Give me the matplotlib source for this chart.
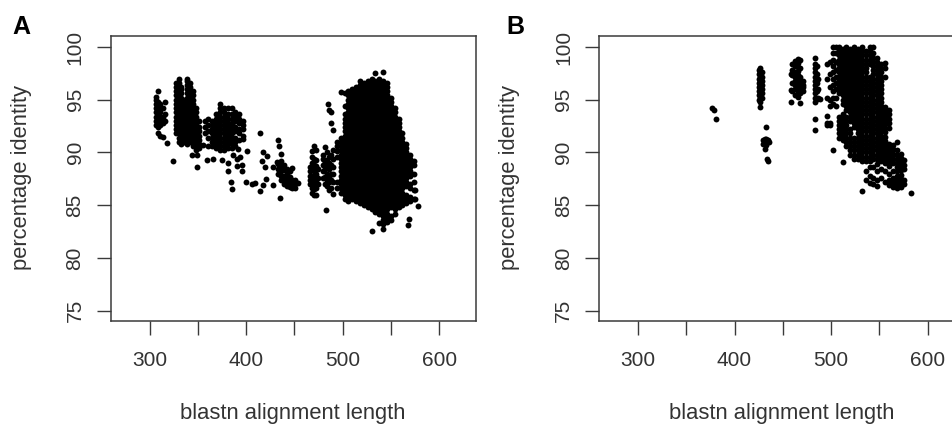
import matplotlib
matplotlib.use("Agg")
import matplotlib.pyplot as plt

plt.rcParams['font.family'] = ['Liberation Sans', 'DejaVu Sans']

x_ticks = [300, 350, 400, 450, 500, 550, 600]
x_labels = ['300', '', '400', '', '500', '', '600']
y_ticks = [75, 80, 85, 90, 95, 100]
y_labels = ['75', '80', '85', '90', '95', '100']
x_title = 'blastn alignment length'
y_title = 'percentage identity'

# Panel A, one list of identities per alignment length
A_left_len = [307, 309, 311, 314, 316, 318]
A_left_pct = [
    [92.6, 93, 93.4, 93.8, 94.2, 94.6, 95, 95.3],
    [92.4, 92.8, 93.2, 93.6, 94, 94.4, 94.8, 95.8, 91.8],
    [92.6, 93, 93.4, 93.8, 94.2, 94.6, 91.6],
    [92.8, 93.4, 94.2, 91.5],
    [93, 93.6, 94.8],
    [90.9],
]
A_mid_len = [327, 330, 333, 336, 339, 342, 345, 348, 351]
A_mid_pct = [
    [91.8, 92.2, 92.6, 93, 93.4, 93.8, 94.2, 94.6, 95, 95.4, 95.8, 96.2, 96.6],
    [91, 91.4, 91.8, 92.2, 92.6, 93, 93.4, 93.8, 94.2, 94.6, 95, 95.4, 95.8, 96.2, 96.6, 97],
    [90.8, 91.2, 91.6, 92, 92.4, 92.8, 93.2, 93.6, 94, 94.4, 94.8, 95.2, 95.6, 96, 96.2],
    [91, 91.4, 91.8, 92.2, 92.6, 93, 93.4, 93.8, 94.2, 94.6, 95],
    [90.8, 91.2, 91.6, 92, 92.4, 92.8, 93.2, 93.6, 94, 94.4, 94.8, 95.2, 95.6, 96, 96.4, 96.8, 97],
    [91, 91.4, 91.8, 92.2, 92.6, 93, 93.4, 93.8, 94.2, 94.6, 95, 95.4, 95.8, 96.2, 96.6],
    [90.6, 91, 91.4, 91.8, 92.2, 92.6, 93, 93.4, 93.8, 94.2, 94.6, 95, 95.4, 95.8],
    [90.2, 90.6, 91, 91.4, 91.8, 92.2, 92.6, 93, 93.4, 93.8, 94.2],
    [90.4, 90.8, 91.2, 91.6, 92, 92.4, 93],
]
A_third_len = [357, 361, 365, 369, 373, 377, 381, 385, 389, 393, 397]
A_third_pct = [
    [93, 92.4, 91.8],
    [93.2, 92.6, 92, 91.4, 90.6],
    [93, 92.6, 92.2, 91.8, 91.4, 91, 90.6],
    [93.6, 93.2, 92.8, 92.4, 92, 91.6, 91.2, 90.8, 90.4],
    [94.6, 94.2, 93.8, 93.4, 93, 92.6, 92.2, 91.8, 91.4, 91, 90.6, 90.2],
    [94.2, 93.8, 93.4, 93, 92.6, 92.2, 91.8, 91.4, 91, 90.6, 90.2],
    [94.2, 93.6, 93.2, 92.8, 92.4, 92, 91.6, 91.2, 90.8, 90.4],
    [94.2, 93.6, 93.2, 92.7, 92.2, 91.8, 91.4, 90.9, 90.4],
    [93.8, 93.4, 93, 92.4, 92, 91.4, 91, 90.6],
    [93.6, 93.2, 92.8, 92.2, 91.8, 91.2],
    [93, 92.6, 92.2, 91.6, 91.3],
]
A_sparse_len = [324.7, 348.9, 343.7, 348.9, 355.8, 359.2, 366.1, 374.8, 381.7, 381.7, 384.1, 385.1,
                386.9, 392, 400.7, 390.3, 393.8, 390.3, 395.5, 395.5, 399.6, 405.9, 409.3, 414.5,
                417.3, 416.2, 421.4, 419.7, 428.3, 420.7, 417.3, 414.5, 428.3, 433.5, 434.5, 435.9,
                431.8, 435.2, 482.7, 490.3, 485, 486, 488, 488, 490, 530, 569, 568, 578.4, 575, 575]
A_sparse_pct = [89.2, 88.6, 89.8, 89.8, 90.7, 89.3, 89.4, 89.3, 89, 88.2, 87.2, 86.5,
                89.8, 90.3, 90.1, 89.4, 89.6, 88.7, 88.8, 88.2, 87.2, 87, 87.1, 91.8,
                90, 89.2, 89.7, 88.6, 88.6, 87.5, 86.9, 86.3, 86.9, 91.2, 90.6, 89.9,
                89.1, 85.7, 84.5, 86.1, 94.6, 94, 93.8, 92.8, 92.1, 82.6, 83.7, 83.1, 84.9, 85.6, 86.4]
A_fourth_len = [433, 436, 439, 442, 445, 448, 451, 454]
A_fourth_pct = [
    [88.9, 88.4, 88],
    [89.2, 88.7, 88.2, 87.8, 87.4],
    [88.8, 88.3, 87.8, 87.4, 87],
    [88.4, 88, 87.6, 87.2, 86.8],
    [88.2, 87.7, 87.3, 87, 86.7],
    [88.5, 87.4, 87, 86.6],
    [87.4, 87, 86.6],
    [87.1],
]
A_fifth_len = [466, 468, 470, 472, 474, 480, 482, 484, 486, 488, 490, 494]
A_fifth_pct = [
    [87, 87.4, 87.8, 88.2, 88.6],
    [86.2, 86.6, 87.2, 87.8, 88.4, 89, 89.6, 90.1],
    [86, 86.5, 87, 87.6, 88.2, 88.8, 89.4, 90.6],
    [86, 86.6, 87.4, 88, 88.7, 89.3, 90.2],
    [87, 87.6, 88.4],
    [87.6, 88.2, 88.8, 89.4, 89.8],
    [87, 87.7, 88.4, 89.1, 90.5],
    [86.8, 87.4, 88, 88.6, 89.3, 90],
    [86.4, 87.2, 87.8, 88.4, 89, 89.6],
    [86.6, 87.4, 88, 88.8, 89.8],
    [87.2, 88, 88.6, 89.4, 90.2],
    [86.6, 87.2, 89.6, 90.1, 90.6, 91],
]
A_main_len = [498, 502, 506, 510, 514, 518, 522, 526, 530, 534]
A_main_pct = [
    [86.2, 86.6, 87, 87.4, 87.8, 88.2, 88.6, 89, 89.4, 89.8, 90.2, 90.6, 91, 91.4, 95.7],
    [85.6, 86, 86.4, 86.8, 87.2, 87.6, 88, 88.4, 88.8, 89.2, 89.6, 90, 90.4, 90.8, 91.2, 91.6, 92, 92.4, 92.8, 93.2, 93.6, 94.4, 95.6],
    [85.4, 85.8, 86.2, 86.6, 87, 87.4, 87.8, 88.2, 88.6, 89, 89.4, 89.8, 90.2, 90.6, 91, 91.4, 91.8, 92.2, 92.6, 93, 93.4, 93.8, 94.2, 94.6, 95, 95.4, 95.8],
    [85.6, 86, 86.4, 86.8, 87.2, 87.6, 88, 88.4, 88.8, 89.2, 89.6, 90, 90.4, 90.8, 91.2, 91.6, 92, 92.4, 92.8, 93.2, 93.6, 94, 94.4, 94.8, 95.2, 95.6, 96],
    [85.4, 85.8, 86.2, 86.6, 87, 87.4, 87.8, 88.2, 88.6, 89, 89.4, 89.8, 90.2, 90.6, 91, 91.4, 91.8, 92.2, 92.6, 93, 93.4, 93.8, 94.2, 94.6, 95, 95.4, 95.8, 96.2],
    [85.2, 85.6, 86, 86.4, 86.8, 87.2, 87.6, 88, 88.4, 88.8, 89.2, 89.6, 90, 90.4, 90.8, 91.2, 91.6, 92, 92.4, 92.8, 93.2, 93.6, 94, 94.4, 94.8, 95.2, 95.6, 96, 96.4, 96.8],
    [85, 85.4, 85.8, 86.2, 86.6, 87, 87.4, 87.8, 88.2, 88.6, 89, 89.4, 89.8, 90.2, 90.6, 91, 91.4, 91.8, 92.2, 92.6, 93, 93.4, 93.8, 94.2, 94.6, 95, 95.4, 95.8, 96.2, 96.6],
    [84.8, 85.2, 85.6, 86, 86.4, 86.8, 87.2, 87.6, 88, 88.4, 88.8, 89.2, 89.6, 90, 90.4, 90.8, 91.2, 91.6, 92, 92.4, 92.8, 93.2, 93.6, 94, 94.4, 94.8, 95.2, 95.6, 96, 96.4, 96.8],
    [84.6, 85, 85.4, 85.8, 86.2, 86.6, 87, 87.4, 87.8, 88.2, 88.6, 89, 89.4, 89.8, 90.2, 90.6, 91, 91.4, 91.8, 92.2, 92.6, 93, 93.4, 93.8, 94.2, 94.6, 95, 95.4, 95.8, 96.2, 96.6, 97],
    [84.4, 84.8, 85.2, 85.6, 86, 86.4, 86.8, 87.2, 87.6, 88, 88.4, 88.8, 89.2, 89.6, 90, 90.4, 90.8, 91.2, 91.6, 92, 92.4, 92.8, 93.2, 93.6, 94, 94.4, 94.8, 95.2, 95.6, 96, 96.4, 96.8, 97.5],
]
A_right_len = [538, 542, 546, 550, 554, 558, 562, 566, 570, 574]
A_right_pct = [
    [83.3, 84.2, 84.6, 85, 85.4, 85.8, 86.2, 86.6, 87, 87.4, 87.8, 88.2, 88.6, 89, 89.4, 89.8, 90.2, 90.6, 91, 91.4, 91.8, 92.2, 92.6, 93, 93.4, 93.8, 94.2, 94.6, 95, 95.4, 95.8, 96.2, 96.6, 97],
    [82.7, 83.2, 83.6, 84, 84.4, 84.8, 85.2, 85.6, 86, 86.4, 86.8, 87.2, 87.6, 88, 88.4, 88.8, 89.2, 89.6, 90, 90.4, 90.8, 91.2, 91.6, 92, 92.4, 92.8, 93.2, 93.6, 94, 94.4, 94.8, 95.2, 95.6, 96, 96.4, 96.8, 97.6],
    [83.4, 83.8, 84.2, 84.6, 85, 85.4, 85.8, 86.2, 86.6, 87, 87.4, 87.8, 88.2, 88.6, 89, 89.4, 89.8, 90.2, 90.6, 91, 91.4, 91.8, 92.2, 92.6, 93, 93.4, 93.8, 94.2, 94.6, 95, 95.4, 95.8, 96.2, 96.6],
    [83.6, 84, 84.8, 85.2, 85.6, 86, 86.4, 86.8, 87.2, 87.6, 88, 88.4, 88.8, 89.2, 89.6, 90, 90.4, 90.8, 91.2, 91.6, 92, 92.4, 92.8, 93.2, 93.6, 94, 94.4, 94.8, 95.2],
    [84.2, 84.6, 85, 85.4, 85.8, 86.2, 86.6, 87, 87.4, 87.8, 88.2, 88.6, 89, 89.4, 89.8, 90.2, 90.6, 91, 91.4, 91.8, 92.2, 92.6, 93, 93.4, 93.8, 94.2],
    [84.8, 85.2, 85.6, 86, 86.4, 86.8, 87.2, 87.6, 88, 88.4, 88.8, 89.2, 89.6, 90, 90.4, 90.8, 91.2, 91.6, 92, 92.4, 92.8, 93.2],
    [85, 85.4, 85.8, 86.2, 86.6, 87, 87.4, 87.8, 88.2, 88.6, 89, 89.4, 89.8, 90.2, 90.6, 91, 91.4, 91.8],
    [85.2, 85.6, 86, 86.8, 87.2, 87.6, 88, 88.4, 88.8, 89.2, 89.6, 90, 90.4, 90.8],
    [85.4, 85.8, 86.6, 87, 87.8, 88.2, 88.6, 89, 89.4, 89.8],
    [85.6, 86.4, 87.2, 88, 88.8, 89.2],
]

# Panel B, one list of identities per alignment length
B_left_len = [376.4, 379.1, 380.5]
B_left_pct = [[94.2], [94.0], [93.2]]
B_second_len = [425, 426.5, 428, 430, 431.6, 432.7, 433.4, 435, 436]
B_second_pct = [
    [97.8, 97.4, 97, 96.6, 96.2, 95.8, 95.4, 95],
    [98, 97.6, 97.2, 96.8, 96.4, 96, 95.6, 95.2, 94.8, 94.3],
    [97.6, 97.2, 96.8, 96.4, 96, 95.6, 95.2],
    [91.2, 90.8],
    [91.3, 90.9, 90.3],
    [92.4, 91.3, 90.7],
    [89.4],
    [89.2, 91.2],
    [91],
]
B_third_len = [458.6, 460, 463, 466, 468, 471]
B_third_pct = [
    [97.4, 95.9, 94.8],
    [98.4, 97.8, 97.3, 96.6, 95.8],
    [98.7, 98.2, 97.6, 97.2, 96.8, 96.4, 96, 95.4],
    [98.9, 98.5, 98.1, 97.7, 97.3, 96.9, 96.5, 96.1, 95.7, 95.3],
    [98.8, 98, 97.2, 96.8, 96.4, 96, 95.6, 94.7],
    [96.8, 96.4, 96.2, 95.8],
]
B_fourth_len = [483.4, 485, 487, 488.6]
B_fourth_pct = [
    [99, 98.4, 98, 97.6, 97.2, 96.8, 96.4, 96, 95.6, 95.2, 94.8, 93.2, 92.1],
    [98.2, 97.4, 96.6, 95.8, 95.1],
    [97, 96, 95.2],
    [95.1],
]
B_edge_len = [496, 499, 502, 505]
B_edge_pct = [
    [93.5, 92.8, 92.6, 95.2, 97, 98.4],
    [92.8, 94.4, 95, 96.2, 97.4, 98.6, 92.6],
    [100, 99.4, 98.8, 98.2, 97.6, 97, 96.4, 95.8, 95.2, 94.6, 90.2],
    [100, 99.4, 98.6, 97.8, 97.2, 96.6, 96, 95.2, 94.4],
]
B_main_len = [508, 512, 516, 520, 524, 528, 532]
B_main_pct = [
    [100, 99.6, 99.2, 98.8, 98.4, 98, 97.6, 97.2, 96.8, 96.4, 96, 95.6, 93.4, 93, 92.6, 92.2, 91.8, 91.4],
    [99.8, 99.4, 99, 98.6, 98.2, 97.8, 97.4, 97, 96.6, 96.2, 95.8, 95.4, 95, 94.6, 93.6, 93.2, 92.8, 92.4, 92, 91.6, 91.2, 89.1],
    [100, 99.6, 99.2, 98.8, 98.4, 98, 97.6, 97.2, 96.8, 96.4, 96, 95.6, 95.2, 94.8, 94.4, 94, 93.4, 93, 92.6, 92.2, 91.8, 91.4, 91, 90.6],
    [99.8, 99.4, 99, 98.6, 98.2, 97.8, 97.4, 97, 96.6, 96.2, 95.8, 95.4, 95, 94.6, 94.2, 93.8, 93.4, 93, 92.2, 91.8, 91.4, 91, 90.6, 90.2, 89.8],
    [100, 99.6, 99.2, 98.8, 98.4, 98, 97.6, 97.2, 96.8, 96.4, 96, 95.6, 95.2, 94.8, 94.4, 94, 93.6, 93.2, 92.8, 92.4, 91.4, 91, 90.6, 90.2, 89.8, 89.4],
    [99.8, 99.4, 99, 98.6, 98.2, 97.8, 97.4, 97, 96.6, 96.2, 95.8, 95.4, 95, 94.6, 94.2, 93.8, 93.4, 93, 92.6, 92.2, 91.8, 91.4, 91, 90.6, 90.2, 89.8, 89.4],
    [100, 99.6, 99.2, 98.8, 98.4, 98, 97.6, 97.2, 96.8, 96.4, 96, 95.6, 95.2, 94.8, 94.4, 94, 93.6, 93.2, 92.8, 92.4, 92, 91.6, 91.2, 90.8, 90.4, 90, 89.6, 89.2, 86.3],
]
B_right_len = [536, 540, 544, 548, 552, 556, 560]
B_right_pct = [
    [99.6, 99.2, 98.8, 98.4, 98, 97.6, 97.2, 96.8, 96.4, 96, 95.6, 95.2, 94.8, 94.4, 94, 93.6, 93.2, 92.8, 92.4, 92, 91.6, 91.2, 90.8, 90.4, 90, 89.6, 89.2, 88.2, 87.4],
    [100, 99.6, 99.2, 98.8, 98.4, 97.2, 96.8, 96.4, 96, 95.6, 95.2, 94.8, 94.4, 94, 93.6, 93.2, 92.8, 92.4, 92, 91.6, 91.2, 90.8, 90.4, 90, 89.6, 89.2, 88.6, 87.8, 87.1],
    [100, 99.4, 99, 98.6, 98.2, 97.8, 97.4, 97, 96.6, 96.2, 95.8, 95.4, 95, 94.6, 94.2, 93.8, 93.4, 93, 92.6, 92.2, 91.8, 91.4, 91, 90.6, 90.2, 89.8, 89.4, 88.6, 87.6, 87],
    [99, 98.6, 98.2, 97.8, 97.4, 97, 96.6, 96.2, 95.8, 95.4, 95, 94.6, 94.2, 93.8, 93.4, 93, 92.6, 92.2, 91.8, 91.4, 91, 90.6, 90.2, 89.8, 89.4, 88.9, 88.2, 87.4, 86.8],
    [98.4, 98, 97.6, 97.2, 96.8, 96.4, 96, 95.6, 95.2, 94.8, 94.4, 94, 93.6, 93.2, 92.8, 92.4, 92, 91.6, 91.2, 90.8, 90.4, 90, 89.6, 89.2, 88.4, 87.6],
    [98.5, 98, 97.2, 94.3, 93.9, 93.5, 93.1, 92.7, 92.3, 91.9, 91.5, 91.1, 90.7, 90.3, 89.9, 89.5, 89, 88.2, 87.2],
    [94, 93.6, 93.2, 92.8, 92.3, 90.8, 90.4, 90, 89.6, 89.2, 88.7, 88, 87.4, 86.9],
]
B_tail_len = [564, 568, 572, 576, 583]
B_tail_pct = [
    [90.7, 90.3, 89.9, 89.4, 89, 88.2, 87.6, 87.2, 86.7],
    [91, 90.2, 89.8, 89.4, 89, 88.6, 88.2, 87.8, 87.4, 87, 86.6],
    [89.9, 89.5, 89.1, 88.7, 88.3, 87.9, 87.5, 87.1, 86.7],
    [89.3, 88.8, 88.4, 87.4, 87],
    [86.2],
]

A_groups = [(A_left_len, A_left_pct), (A_mid_len, A_mid_pct), (A_third_len, A_third_pct),
            (A_fourth_len, A_fourth_pct), (A_fifth_len, A_fifth_pct),
            (A_main_len, A_main_pct), (A_right_len, A_right_pct)]
B_groups = [(B_left_len, B_left_pct), (B_second_len, B_second_pct), (B_third_len, B_third_pct),
            (B_fourth_len, B_fourth_pct), (B_edge_len, B_edge_pct), (B_main_len, B_main_pct),
            (B_right_len, B_right_pct), (B_tail_len, B_tail_pct)]


def flatten(groups):
    xs, ys = [], []
    for lengths, columns in groups:
        for length, column in zip(lengths, columns):
            xs.extend([length] * len(column))
            ys.extend(column)
    return xs, ys


INK = '#3a3a3a'
DOT = 18
W, H = 952, 424
fig = plt.figure(figsize=(W / 100, H / 100), dpi=100, facecolor='white')


def panel(left_px, letter, letter_px, ylabel_px, xs, ys):
    ax = fig.add_axes([left_px / W, (H - 320.7) / H, 365 / W, 284.7 / H])
    ax.scatter(xs, ys, s=DOT, c='black', linewidths=0, zorder=3)
    ax.set_xlim(260, 638.2)
    ax.set_ylim(74.05, 101.04)
    ax.set_xticks(x_ticks)
    ax.set_xticklabels(x_labels)
    ax.set_yticks(y_ticks)
    ax.set_yticklabels(y_labels, rotation=90, va='center')
    ax.tick_params(axis='both', length=10, width=1, color=INK, labelcolor='#333333', labelsize=15)
    ax.tick_params(axis='x', pad=12)
    ax.tick_params(axis='y', pad=9)
    for spine in ax.spines.values():
        spine.set_color(INK)
        spine.set_linewidth(1.1)
    fig.text((left_px + 182) / W, (H - 413) / H, x_title, ha='center', va='center',
             fontsize=15.8, color='#333333')
    fig.text(ylabel_px / W, (H - 177) / H, y_title, ha='center', va='center', rotation=90,
             fontsize=15.8, color='#333333')
    fig.text(letter_px / W, (H - 26.5) / H, letter, ha='center', va='center',
             fontsize=18, fontweight='bold', color='black')
    return ax


ax_a = panel(111, 'A', 21.5, 22, *flatten(A_groups))
ax_a.scatter(A_sparse_len, A_sparse_pct, s=DOT, c='black', linewidths=0, zorder=3)
panel(599.4, 'B', 515, 509, *flatten(B_groups))

fig.savefig('out.png', dpi=100, facecolor='white')
